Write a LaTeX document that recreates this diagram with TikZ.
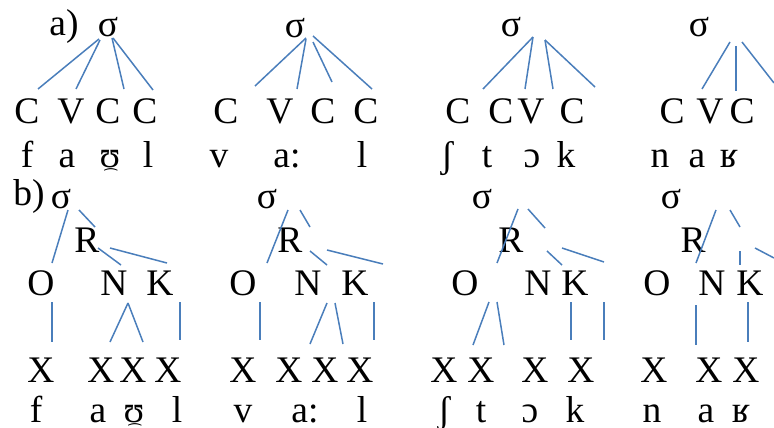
\documentclass[tikz,border=0pt]{standalone}
\usepackage{fontspec}
\setmainfont{Liberation Serif}
\newfontfamily\tiefont{DejaVu Sans}
\definecolor{linkblue}{HTML}{4A7EBB}
\tikzset{
  lt/.style={anchor=base, inner sep=0pt, outer sep=0pt, font=\fontsize{37.5}{40}\selectfont},
  arcmark/.style={anchor=center, inner sep=0pt, outer sep=0pt, font=\tiefont\fontsize{15}{15}\selectfont},
  link/.style={draw=linkblue, line width=1.5pt}
}
% one branch: two named ends and the line between them
\newcommand\seg[3]{\coordinate (#1a) at #2; \coordinate (#1b) at #3; \draw[link] (#1a) -- (#1b);}
\begin{document}
\begin{tikzpicture}[x=1pt,y=-1pt]
\useasboundingbox (0,0) rectangle (774,428);
\clip (0,0) rectangle (774,428);

% ---------- a) flat CV tiers ----------
\node[lt] (la) at (64,36) {a)};
% fault
\node[lt] (s1) at (108,37) {σ};
\node[lt] (c11) at (27,123) {C};
\node[lt] (v12) at (71,123) {V};
\node[lt] (c13) at (108,123) {C};
\node[lt] (c14) at (145,123) {C};
\node[lt] (p11) at (27,167) {f};
\node[lt] (p12) at (67,167) {a};
\node[lt] (p13) at (110,167) {ʊ};
\node[arcmark] (m13) at (111,176) {⁀};
\node[lt] (p14) at (148,167) {l};
\seg{A1}{(99,39)}{(38,89)}
\seg{A2}{(100,40)}{(76,89)}
\seg{A3}{(112,38)}{(124,89)}
\seg{A4}{(113,38)}{(153,90)}
% vaal
\node[lt] (s2) at (295,38) {σ};
\node[lt] (c21) at (226,123) {C};
\node[lt] (v22) at (280,123) {V};
\node[lt] (c23) at (323,123) {C};
\node[lt] (c24) at (366,123) {C};
\node[lt] (p21) at (219,167) {v};
\node[lt] (p22) at (287,167) {a:};
\node[lt] (p24) at (362,167) {l};
\seg{B1}{(306,38)}{(255,86)}
\seg{B2}{(306,39)}{(297,89)}
\seg{B3}{(313,42)}{(332,82)}
\seg{B4}{(313,36)}{(372,89)}
% shtok
\node[lt] (s3) at (511,37) {σ};
\node[lt] (c31) at (458,123) {C};
\node[lt] (c32) at (501,123) {C};
\node[lt] (v33) at (531,123) {V};
\node[lt] (c34) at (572,123) {C};
\node[lt] (p31) at (447,167) {ʃ};
\node[lt] (p32) at (487,167) {t};
\node[lt] (p33) at (532,167) {ɔ};
\node[lt] (p34) at (566,167) {k};
\seg{C1}{(533,37)}{(483,89)}
\seg{C2}{(533,37)}{(525,89)}
\seg{C3}{(545,40)}{(553,89)}
\seg{C4}{(545,40)}{(595,87)}
% nar
\node[lt] (s4) at (699,37) {σ};
\node[lt] (c41) at (672,123) {C};
\node[lt] (v42) at (710,123) {V};
\node[lt] (c43) at (742,123) {C};
\node[lt] (p41) at (660,167) {n};
\node[lt] (p42) at (697,167) {a};
\node[lt] (p43) at (729,167) {ʁ};
\seg{D1}{(730,42)}{(702,89)}
\seg{D2}{(736,46)}{(736,91)}
\seg{D3}{(742,42)}{(774,83)}

% ---------- b) onset / rhyme structure ----------
\node[lt] (lb) at (29,205) {b)};
% fault
\node[lt] (t1) at (61,208) {σ};
\node[lt] (r1) at (87,252) {R};
\node[lt] (o1) at (41,295) {O};
\node[lt] (n1) at (114,295) {N};
\node[lt] (k1) at (160,295) {K};
\node[lt] (x11) at (41,382) {X};
\node[lt] (x12) at (101,382) {X};
\node[lt] (x13) at (133,382) {X};
\node[lt] (x14) at (168,382) {X};
\node[lt] (q11) at (36,422) {f};
\node[lt] (q12) at (98,422) {a};
\node[lt] (q13) at (134,422) {ʊ};
\node[arcmark] (m23) at (135,431) {⁀};
\node[lt] (q14) at (177,422) {l};
\seg{E1}{(68,210)}{(52,263)}
\seg{E2}{(79,210)}{(95,227)}
\seg{E3}{(98,248)}{(121,265)}
\seg{E4}{(110,248)}{(167,263)}
\seg{E5}{(52,302)}{(52,342)}
\seg{E6}{(128,303)}{(110,342)}
\seg{E7}{(128,303)}{(143,342)}
\seg{E8}{(180,302)}{(180,340)}
% vaal
\node[lt] (t2) at (267,208) {σ};
\node[lt] (r2) at (290,252) {R};
\node[lt] (o2) at (243,295) {O};
\node[lt] (n2) at (308,295) {N};
\node[lt] (k2) at (355,295) {K};
\node[lt] (x21) at (243,382) {X};
\node[lt] (x22) at (289,382) {X};
\node[lt] (x23) at (325,382) {X};
\node[lt] (x24) at (360,382) {X};
\node[lt] (q21) at (243,422) {v};
\node[lt] (q22) at (305,422) {a:};
\node[lt] (q24) at (362,422) {l};
\seg{F1}{(288,210)}{(267,263)}
\seg{F2}{(300,210)}{(310,227)}
\seg{F3}{(310,251)}{(327,265)}
\seg{F4}{(327,250)}{(383,264)}
\seg{F5}{(260,302)}{(260,340)}
\seg{F6}{(327,303)}{(310,344)}
\seg{F7}{(335,303)}{(343,344)}
\seg{F8}{(374,302)}{(374,340)}
% shtok
\node[lt] (t3) at (482,208) {σ};
\node[lt] (r3) at (511,252) {R};
\node[lt] (o3) at (465,295) {O};
\node[lt] (n3) at (538,295) {N};
\node[lt] (k3) at (575,295) {K};
\node[lt] (x31) at (444,382) {X};
\node[lt] (x32) at (481,382) {X};
\node[lt] (x33) at (535,382) {X};
\node[lt] (x34) at (581,382) {X};
\node[lt] (q31) at (444,422) {ʃ};
\node[lt] (q32) at (481,422) {t};
\node[lt] (q33) at (530,422) {ɔ};
\node[lt] (q34) at (575,422) {k};
\seg{G1}{(518,209)}{(497,263)}
\seg{G2}{(528,209)}{(545,228)}
\seg{G3}{(547,251)}{(562,265)}
\seg{G4}{(562,248)}{(604,262)}
\seg{G5}{(489,302)}{(473,345)}
\seg{G6}{(497,302)}{(504,345)}
\seg{G7}{(571,302)}{(571,340)}
\seg{G8}{(604,302)}{(604,340)}
% nar
\node[lt] (t4) at (671,208) {σ};
\node[lt] (r4) at (693,252) {R};
\node[lt] (o4) at (657,295) {O};
\node[lt] (n4) at (712,295) {N};
\node[lt] (k4) at (750,295) {K};
\node[lt] (x41) at (654,382) {X};
\node[lt] (x42) at (709,382) {X};
\node[lt] (x43) at (746,382) {X};
\node[lt] (q41) at (652,422) {n};
\node[lt] (q42) at (706,422) {a};
\node[lt] (q43) at (741,422) {ʁ};
\seg{H1}{(716,210)}{(696,263)}
\seg{H2}{(730,210)}{(740,227)}
\seg{H3}{(740,251)}{(740,265)}
\seg{H4}{(755,248)}{(774,258)}
\seg{H5}{(696,305)}{(696,345)}
\seg{H6}{(748,302)}{(748,342)}
\end{tikzpicture}
\end{document}
